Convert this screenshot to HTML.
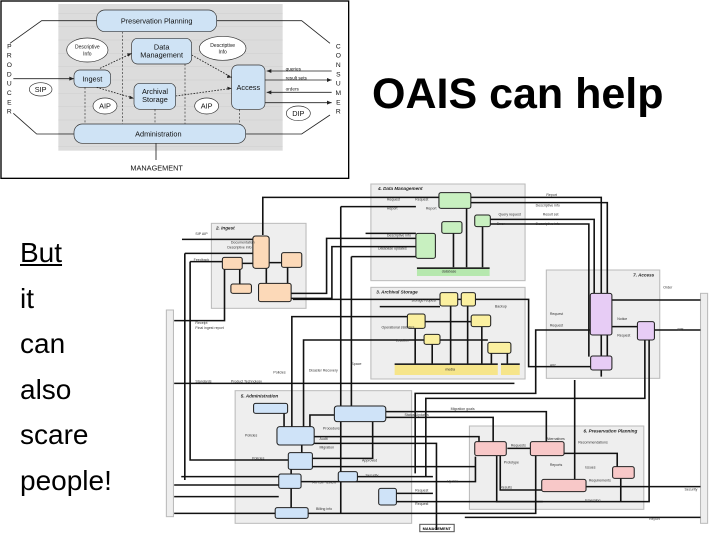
<!DOCTYPE html>
<html><head><meta charset="utf-8"><style>
html,body{margin:0;padding:0;background:#fff;}
body{width:720px;height:540px;position:relative;overflow:hidden;font-family:"Liberation Sans",sans-serif;}
.t{position:absolute;color:#000;}
</style></head><body>

<svg style="position:absolute;left:0;top:0" width="360" height="180" viewBox="0 0 1080 540" font-family="Liberation Sans, sans-serif">
<rect x="3" y="3" width="1043" height="532" fill="#fff" stroke="#000" stroke-width="4"/>
<rect x="175" y="12" width="673" height="440" fill="#dcdcdc"/>
<g stroke="#c8c8c8" stroke-width="1">
<path d="M175 40H848M175 80H848M175 120H848M175 160H848M175 200H848M175 240H848M175 280H848M175 320H848M175 360H848M175 400H848M175 440H848"/>
</g>
<g stroke="#333" stroke-width="2" stroke-dasharray="6,5" fill="none">
<path d="M368 95V372M555 192V372M255 262V372M465 328V372M718 328V372"/>
</g>
<g stroke="#222" stroke-width="2.5" fill="none">
<path d="M30 130L125 62H290M650 62H905L990 130M40 340L110 402H222M737 402H905L990 345M468 430V480"/>
<path d="M40 236H222M995 213H800M795 240H995M995 277H800M795 308H995"/>
<path d="M300 205L395 160M575 165L695 232M290 262L402 295M527 288L695 265" stroke-dasharray="5,4"/>
</g>
<g fill="#222"><path d="M222 236l-14-6v12zM800 213l14-6v12zM995 240l-14-6v12zM800 277l14-6v12zM995 308l-14-6v12zM395 160l-14 0 4 10zM695 232l-12-8-2 10zM402 295l-13-8-1 10zM695 265l-13-5 1 10z"/></g>
<g fill="#cfe3f5" stroke="#333" stroke-width="2">
<rect x="290" y="30" width="360" height="65" rx="25"/>
<rect x="395" y="115" width="180" height="77" rx="18"/>
<rect x="222" y="210" width="110" height="52" rx="18"/>
<rect x="402" y="250" width="125" height="78" rx="18"/>
<rect x="695" y="195" width="100" height="133" rx="18"/>
<rect x="222" y="372" width="515" height="58" rx="25"/>
</g>
<g fill="#fff" stroke="#333" stroke-width="2">
<ellipse cx="262" cy="150" rx="62" ry="36"/><ellipse cx="668" cy="145" rx="70" ry="36"/>
<ellipse cx="122" cy="268" rx="34" ry="20"/><ellipse cx="315" cy="318" rx="36" ry="24"/>
<ellipse cx="620" cy="318" rx="36" ry="24"/><ellipse cx="895" cy="340" rx="36" ry="22"/>
</g>
<g font-size="22" text-anchor="middle" fill="#111">
<text x="470" y="70">Preservation Planning</text>
<text x="485" y="148">Data</text><text x="485" y="172">Management</text>
<text x="277" y="245">Ingest</text>
<text x="465" y="282">Archival</text><text x="465" y="306">Storage</text>
<text x="745" y="270">Access</text>
<text x="475" y="410">Administration</text>
<text x="470" y="512">MANAGEMENT</text>
<text x="122" y="276">SIP</text><text x="315" y="326">AIP</text><text x="620" y="326">AIP</text><text x="895" y="348">DIP</text>
</g>
<g font-size="15" text-anchor="middle" fill="#111">
<text x="262" y="146">Descriptive</text><text x="262" y="166">Info</text>
<text x="668" y="141">Descriptive</text><text x="668" y="161">Info</text>
</g>
<g font-size="14" fill="#111"><text x="857" y="211">queries</text><text x="857" y="239">result sets</text><text x="857" y="272">orders</text></g>
<g font-size="20" text-anchor="middle" fill="#111">
<text x="28" y="145">P</text><text x="28" y="173">R</text><text x="28" y="201">O</text><text x="28" y="229">D</text><text x="28" y="257">U</text><text x="28" y="285">C</text><text x="28" y="313">E</text><text x="28" y="341">R</text>
<text x="1015" y="145">C</text><text x="1015" y="173">O</text><text x="1015" y="201">N</text><text x="1015" y="229">S</text><text x="1015" y="257">U</text><text x="1015" y="285">M</text><text x="1015" y="313">E</text><text x="1015" y="341">R</text>
</g>
</svg>

<div class="t" style="left:372px;top:70px;font-size:43px;font-weight:bold;white-space:nowrap;">OAIS can help</div>
<div class="t" style="left:20px;top:230px;font-size:28px;line-height:45.5px;">
<span style="text-decoration:underline">But</span><br>it<br>can<br>also<br>scare<br>people!</div>

<svg style="position:absolute;left:160px;top:180px" width="560" height="360" viewBox="0 0 1580 1080" preserveAspectRatio="none" font-family="Liberation Sans, sans-serif">
<g fill="#eeeeee" stroke="#bbb" stroke-width="3">
<rect x="595" y="12" width="435" height="290"/>
<rect x="145" y="130" width="267" height="255"/>
<rect x="595" y="322" width="435" height="275"/>
<rect x="1090" y="270" width="320" height="325"/>
<rect x="212" y="632" width="498" height="398"/>
<rect x="873" y="738" width="492" height="250"/>
<rect x="18" y="390" width="20" height="620"/>
<rect x="1525" y="340" width="20" height="690"/>
</g>
<rect x="733" y="1033" width="97" height="22" fill="#fff" stroke="#555" stroke-width="3"/>
<g stroke="#111" stroke-width="4.5" fill="none">
<path d="M290 165V52H787M877 52H1245V340M877 68H1262V340"/>
<path d="M62 178H262M70 220H262M70 220V900M85 245H176M85 245V840H362M182 268V422H40"/>
<path d="M40 610H1000M370 340H470V175H722M370 355H485V200H722M375 358H1040V560H1215"/>
<path d="M405 740V480H925M372 740V410H698M510 80V1000M510 80H722M540 230H722M540 230V700"/>
<path d="M860 1012H1525M40 1000H325M40 950H335M40 915H335M60 890H335"/>
<path d="M637 695H1090V785M637 712H940V785M720 880V640H1060V450H1214M750 890V655H1368V480"/>
<path d="M980 805H1045M1140 820H1290V860M1202 920H1525M1275 360H1525M1395 450H1525M1170 600V900"/>
<path d="M600 725V835H430M423 740V705H492M435 770H900V785M435 790H780V1050M430 860H890"/>
<path d="M828 160V262M865 85V262M910 140V262M932 118H1225V340M932 132H1210V530"/>
<path d="M720 445V552M768 493V552M820 378V552M868 378V552M908 440V552M935 520V552M980 520V552M748 425H878"/>
<path d="M398 905H890V830M418 1000H1060V827M557 890H770M667 940H770M667 965H1380V480M1300 895V965M1245 465V528M1262 465V528"/>
<path d="M950 827V965H1080M960 827V930H1077M300 265V310M360 262V310M232 250H262M308 248H343M225 268V312"/>
<path d="M580 160H722M620 380H790M1275 440H1347M1245 570V590M350 700V740M400 795V818M370 868V882M370 925V983"/>
</g>
<g fill="#c8f0c0" stroke="#222" stroke-width="3">
<rect x="787" y="38" width="90" height="47" rx="6"/>
<rect x="795" y="125" width="57" height="35" rx="6"/>
<rect x="888" y="105" width="44" height="35" rx="6"/>
<rect x="722" y="160" width="55" height="75" rx="6"/>
<rect x="725" y="262" width="205" height="26" stroke="none" fill="#b6e8ae"/>
</g>
<rect x="725" y="262" width="205" height="5" fill="#222"/>
<g fill="#fcd9b8" stroke="#222" stroke-width="3">
<rect x="262" y="168" width="46" height="97" rx="8"/>
<rect x="343" y="218" width="57" height="44" rx="6"/>
<rect x="176" y="232" width="56" height="36" rx="6"/>
<rect x="200" y="312" width="58" height="28" rx="6"/>
<rect x="278" y="310" width="92" height="55" rx="6"/>
</g>
<g fill="#fbf0a0" stroke="#222" stroke-width="3">
<rect x="790" y="338" width="50" height="40" rx="6"/>
<rect x="850" y="338" width="40" height="40" rx="6"/>
<rect x="698" y="402" width="50" height="43" rx="6"/>
<rect x="878" y="405" width="55" height="35" rx="6"/>
<rect x="745" y="463" width="45" height="30" rx="6"/>
<rect x="925" y="487" width="65" height="33" rx="6"/>
<rect x="662" y="555" width="291" height="30" stroke="none" fill="#f6e58a"/>
<rect x="962" y="555" width="53" height="30" stroke="none" fill="#f6e58a"/>
</g>
<rect x="662" y="550" width="291" height="5" fill="#222"/><rect x="962" y="550" width="53" height="5" fill="#222"/>
<g fill="#e7ccf5" stroke="#222" stroke-width="3">
<rect x="1214" y="340" width="61" height="125" rx="6"/>
<rect x="1347" y="425" width="48" height="55" rx="6"/>
<rect x="1215" y="528" width="60" height="42" rx="6"/>
</g>
<g fill="#cfe3f8" stroke="#222" stroke-width="3">
<rect x="264" y="670" width="96" height="30" rx="6"/>
<rect x="492" y="678" width="145" height="47" rx="8"/>
<rect x="330" y="740" width="105" height="55" rx="8"/>
<rect x="362" y="818" width="68" height="50" rx="6"/>
<rect x="335" y="882" width="63" height="43" rx="6"/>
<rect x="325" y="983" width="93" height="32" rx="6"/>
<rect x="503" y="875" width="54" height="30" rx="6"/>
<rect x="617" y="925" width="50" height="50" rx="6"/>
</g>
<g fill="#f8c8c8" stroke="#222" stroke-width="3">
<rect x="888" y="785" width="89" height="42" rx="6"/>
<rect x="1045" y="785" width="95" height="42" rx="6"/>
<rect x="1077" y="898" width="125" height="37" rx="6"/>
<rect x="1277" y="860" width="61" height="35" rx="6"/>
</g>
<g font-size="13" font-style="italic" font-weight="bold" fill="#222">
<text x="615" y="30">4. Data Management</text>
<text x="158" y="148">2. Ingest</text>
<text x="610" y="340">3. Archival Storage</text>
<text x="1335" y="290">7. Access</text>
<text x="228" y="652">5. Administration</text>
<text x="1195" y="757">6. Preservation Planning</text>
</g>
<text x="781" y="1050" font-size="11" text-anchor="middle" font-weight="bold">MANAGEMENT</text>
<g font-size="10" fill="#333">
<text x="640" y="62">Request</text><text x="640" y="88">Report</text><text x="1090" y="48">Report</text>
<text x="720" y="62">Request</text><text x="750" y="88">Report</text><text x="1060" y="80">Descriptive info</text>
<text x="955" y="106">Query request</text><text x="1080" y="106">Result set</text><text x="950" y="135">Error</text><text x="1060" y="135">Descriptive info</text>
<text x="100" y="165">SIP AIP</text><text x="95" y="243">Feedback</text><text x="100" y="432">Receipt</text>
<text x="100" y="447">Final ingest report</text>
<text x="100" y="607">Standards</text><text x="200" y="607">Product Technology</text>
<text x="795" y="278">database</text><text x="805" y="572">media</text>
<text x="1420" y="325">Order</text><text x="1460" y="452">DIP</text>
<text x="1480" y="932">Security</text><text x="1380" y="1020">Report</text>
<text x="690" y="708">Status Updates</text><text x="820" y="690">Migration goals</text>
<text x="640" y="170">Descriptive info</text><text x="615" y="208">Database updates</text>
<text x="200" y="190">Documentation</text><text x="190" y="205">Descriptive info</text>
<text x="710" y="365">storage request</text><text x="945" y="382">Backup</text>
<text x="625" y="445">Operational statistics</text><text x="665" y="485">Location</text>
<text x="1100" y="405">Request</text><text x="1100" y="440">Request</text><text x="1100" y="560">AIP</text>
<text x="1290" y="420">Notice</text><text x="1290" y="470">Request</text>
<text x="240" y="770">Policies</text><text x="460" y="748">Procedures</text><text x="450" y="780">Audit</text>
<text x="450" y="805">Migration</text><text x="260" y="838">Policies</text><text x="570" y="845">Approved</text>
<text x="990" y="800">Requests</text><text x="1090" y="780">Alternatives</text><text x="1180" y="790">Recommendations</text>
<text x="970" y="850">Prototype</text><text x="1200" y="865">Issues</text><text x="1100" y="858">Reports</text>
<text x="1210" y="905">Requirements</text><text x="960" y="925">Results</text><text x="1200" y="965">Emerging</text>
<text x="430" y="910">AIP/SIP review</text><text x="810" y="908">Update</text><text x="720" y="935">Request</text>
<text x="580" y="890">Security</text><text x="440" y="990">Billing info</text><text x="720" y="975">Request</text>
<text x="540" y="555">Space</text><text x="320" y="580">Policies</text><text x="420" y="575">Disaster Recovery</text>
</g>
</svg>
</body></html>
